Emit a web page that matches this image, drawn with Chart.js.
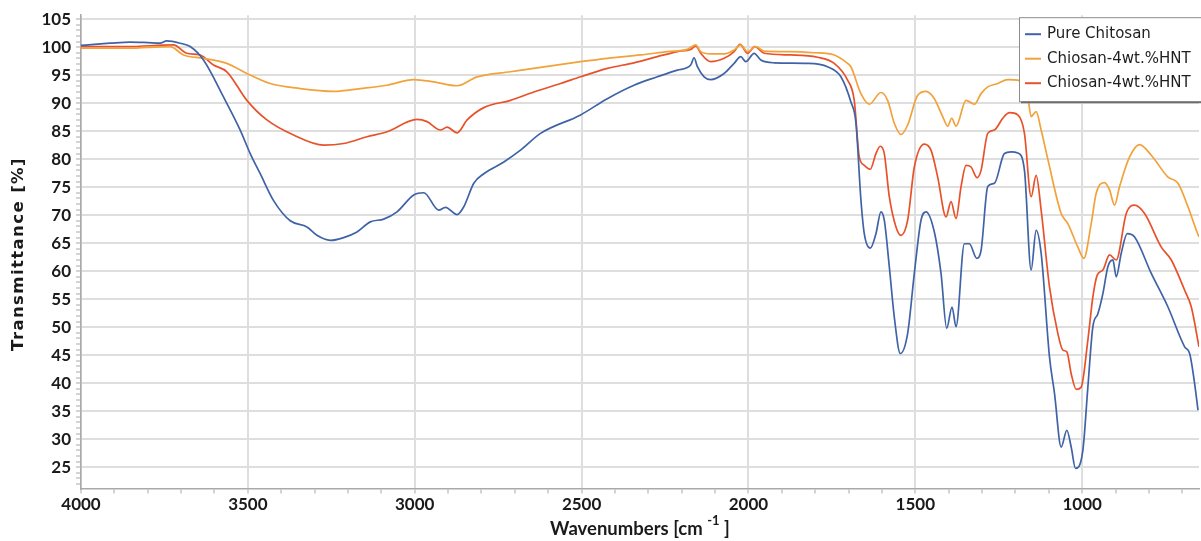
<!DOCTYPE html>
<html>
<head>
<meta charset="utf-8">
<script src="https://cdn.jsdelivr.net/npm/chart.js@4.4.1/dist/chart.umd.min.js"></script>
<style>
  body { margin: 0; background: #fff; }
  #wrap { width: 1201px; height: 541px; }
</style>
</head>
<body>
<div id="wrap"><canvas id="ftirChart"></canvas></div>
<script>
// FTIR spectra, [wavenumber cm-1, transmittance %]
const pureChitosan = [
  [4000,100.3],[3960,100.5],[3913,100.7],[3853,100.9],[3800,100.8],[3763,100.7],[3743,101.1],[3703,100.7],
  [3673,100.1],[3633,97.7],[3573,91.1],[3523,85.2],[3493,81.0],[3463,77.4],[3423,72.6],[3373,69.0],
  [3323,67.9],[3293,66.4],[3253,65.5],[3213,66.0],[3173,67.0],[3133,68.8],[3093,69.3],[3053,70.6],
  [3003,73.6],[2973,74.0],[2928,70.9],[2908,71.4],[2873,70.1],[2853,71.5],[2823,75.7],[2793,77.4],
  [2733,79.5],[2683,81.6],[2623,84.6],[2503,87.9],[2423,90.8],[2343,93.2],[2273,94.7],[2213,95.9],
  [2173,96.8],[2163,98.1],[2153,96.5],[2133,94.7],[2113,94.2],[2073,95.3],[2043,97.1],[2023,98.3],
  [2008,97.4],[1983,98.9],[1963,97.7],[1923,97.2],[1823,97.1],[1763,96.5],[1723,94.7],[1693,90.2],
  [1678,86.5],[1663,72.7],[1653,66.7],[1635,64.1],[1618,66.7],[1603,70.6],[1593,69.1],[1578,60.8],
  [1563,51.8],[1545,45.3],[1523,48.9],[1503,59.6],[1483,69.1],[1468,70.6],[1443,67.0],[1423,59.6],
  [1406,49.8],[1390,53.6],[1378,50.1],[1353,64.9],[1338,64.9],[1316,62.3],[1303,63.7],[1283,75.1],
  [1263,75.7],[1233,81.0],[1213,81.3],[1193,81.1],[1173,78.0],[1153,60.2],[1138,67.3],[1123,63.2],
  [1098,44.7],[1083,38.2],[1063,28.6],[1046,31.6],[1033,28.6],[1020,24.8],[998,28.0],[983,39.3],
  [968,50.1],[953,52.4],[938,56.0],[923,60.8],[908,62.0],[898,59.0],[883,63.2],[865,66.7],
  [843,66.1],[793,59.6],[743,53.6],[693,46.5],[678,45.3],[663,39.9],[653,35.2]
];
const hntOrange = [
  [4000,99.8],[3863,99.8],[3733,100.1],[3693,98.6],[3633,98.0],[3563,97.1],[3503,95.3],[3433,93.5],
  [3343,92.6],[3243,92.1],[3163,92.6],[3083,93.2],[3003,94.2],[2943,93.8],[2873,93.1],[2813,94.7],
  [2713,95.6],[2623,96.4],[2503,97.4],[2423,98.0],[2323,98.6],[2243,99.2],[2183,99.6],[2158,100.4],
  [2143,99.2],[2113,98.8],[2073,98.8],[2043,99.5],[2023,100.4],[2003,99.2],[1978,100.1],[1953,99.3],
  [1873,99.2],[1803,99.0],[1743,98.6],[1703,97.1],[1693,96.5],[1663,91.7],[1638,89.8],[1603,91.9],
  [1583,90.5],[1563,86.4],[1543,84.4],[1523,86.1],[1493,91.4],[1468,92.1],[1443,90.8],[1418,87.6],
  [1403,85.9],[1391,87.3],[1378,85.9],[1348,90.5],[1323,89.8],[1303,91.7],[1283,92.9],[1253,93.5],
  [1223,94.2],[1193,94.1],[1163,91.1],[1153,87.6],[1138,88.5],[1123,85.2],[1103,80.0],[1063,70.3],
  [1043,68.5],[1013,64.3],[995,62.3],[973,68.5],[958,73.9],[933,75.8],[918,74.5],[903,71.8],
  [888,75.1],[858,80.4],[828,82.6],[793,80.7],[743,76.8],[713,75.7],[683,71.5],[658,67.3],[650,66.1]
];
const hntRed = [
  [4000,100.1],[3863,100.1],[3723,100.4],[3683,98.9],[3643,98.6],[3603,96.8],[3563,95.6],[3503,90.5],
  [3443,87.0],[3363,84.3],[3273,82.5],[3213,82.8],[3143,84.0],[3083,84.9],[2993,87.1],[2963,86.7],
  [2923,85.2],[2903,85.7],[2873,84.7],[2843,87.0],[2793,89.2],[2713,90.5],[2643,92.0],[2563,93.5],
  [2503,94.7],[2423,96.2],[2343,97.2],[2273,98.3],[2213,99.2],[2173,99.6],[2158,100.2],[2143,98.9],
  [2113,97.4],[2073,98.0],[2043,99.2],[2025,100.5],[2003,98.9],[1981,100.1],[1953,98.9],[1873,98.6],
  [1793,98.2],[1743,97.1],[1703,94.1],[1683,90.5],[1668,80.4],[1653,78.9],[1635,78.2],[1618,81.0],
  [1605,82.3],[1593,81.0],[1578,73.3],[1558,67.9],[1543,66.4],[1523,69.1],[1503,78.6],[1473,82.7],
  [1453,81.6],[1433,76.8],[1408,69.7],[1393,72.4],[1378,69.4],[1363,75.1],[1348,78.9],[1333,78.6],
  [1315,76.7],[1303,78.0],[1283,84.6],[1263,85.2],[1238,87.3],[1218,88.3],[1193,87.9],[1173,84.6],
  [1153,73.3],[1138,77.1],[1123,70.9],[1098,57.2],[1073,48.9],[1058,45.9],[1046,45.6],[1033,41.7],
  [1018,38.9],[1003,39.3],[983,47.7],[968,55.4],[955,59.3],[938,60.2],[918,62.9],[898,62.0],
  [868,70.3],[843,71.8],[813,70.3],[763,64.3],[733,62.0],[693,56.6],[673,53.6],[650,46.5]
];

const seriesNames = ['Pure Chitosan', 'Chiosan-4wt.%HNT', 'Chiosan-4wt.%HNT'];
const seriesColors = ['#3f63a6', '#f2a23a', '#e8522a'];
const xTicks = [1000, 1500, 2000, 2500, 3000, 3500, 4000];
const yTicks = [25, 30, 35, 40, 45, 50, 55, 60, 65, 70, 75, 80, 85, 90, 95, 100, 105];

const gridColor = '#dedede';
const axisColor = '#a9a9a9';
const labelFont = { family: 'Lato', size: 17, weight: 'bold' };

const toPoints = arr => arr.map(p => ({ x: p[0], y: p[1] }));

// legend box drawn inside the plot, top right
const legendBox = {
  id: 'legendBox',
  afterDraw(chart) {
    const { ctx, chartArea } = chart;
    const x = chartArea.right - 180, y = chartArea.top + 2;
    const w = 200, h = 84;
    ctx.save();
    ctx.fillStyle = '#666';
    ctx.fillRect(x + 2, y + 2, w, h);
    ctx.fillStyle = '#fff';
    ctx.fillRect(x, y, w, h);
    ctx.strokeStyle = '#8c8c8c';
    ctx.lineWidth = 1;
    ctx.strokeRect(x + 0.5, y + 0.5, w, h);
    ctx.font = '15px "DejaVu Sans"';
    ctx.textBaseline = 'middle';
    chart.data.datasets.forEach((ds, i) => {
      const cy = y + 17 + i * 24.5;
      ctx.strokeStyle = ds.borderColor;
      ctx.lineWidth = 2;
      ctx.beginPath();
      ctx.moveTo(x + 6, cy);
      ctx.lineTo(x + 22, cy);
      ctx.stroke();
      ctx.fillStyle = '#1e1e1e';
      ctx.fillText(ds.label, x + 28, cy);
    });
    ctx.restore();
  }
};

// axis titles (the x one has a superscript -1)
const axisTitles = {
  id: 'axisTitles',
  afterDraw(chart) {
    const { ctx, chartArea } = chart;
    ctx.save();
    ctx.fillStyle = '#1a1a1a';
    ctx.textBaseline = 'middle';
    const main = 'Wavenumbers [cm ';
    const sup = '-1';
    const end = ' ]';
    const bigFont = 'bold 18.5px Lato';
    const supFont = 'bold 13px Lato';
    ctx.font = bigFont;
    const w1 = ctx.measureText(main).width, w3 = ctx.measureText(end).width;
    ctx.font = supFont;
    const w2 = ctx.measureText(sup).width;
    let tx = (chartArea.left + chartArea.right) / 2 - (w1 + w2 + w3) / 2;
    const ty = 529;
    ctx.textAlign = 'left';
    ctx.font = bigFont;
    ctx.fillText(main, tx, ty);
    ctx.font = supFont;
    ctx.fillText(sup, tx + w1, ty - 8);
    ctx.font = bigFont;
    ctx.fillText(end, tx + w1 + w2, ty);

    ctx.translate(19, 254);
    ctx.rotate(-Math.PI / 2);
    ctx.textAlign = 'center';
    ctx.font = 'bold 16.5px "DejaVu Sans"';
    ctx.letterSpacing = '1.4px';
    ctx.fillText('Transmittance [%]', 0, 0);
    ctx.restore();
  }
};

const ftirCtx = document.getElementById('ftirChart');
const ftirChart = new Chart(ftirCtx.getContext('2d'), {
  type: 'line',
  data: {
    datasets: [pureChitosan, hntOrange, hntRed].map((s, i) => ({
      label: seriesNames[i],
      data: toPoints(s),
      borderColor: seriesColors[i],
      borderWidth: 1.7,
      pointRadius: 0,
      fill: false,
      cubicInterpolationMode: 'monotone'
    }))
  },
  options: {
    responsive: true,
    maintainAspectRatio: false,
    animation: false,
    layout: { padding: { top: 15, right: 2, left: 0, bottom: 0 } },
    plugins: {
      legend: { display: false },
      tooltip: { enabled: false }
    },
    scales: {
      x: {
        type: 'linear',
        reverse: true,
        min: 650,
        max: 4000,
        afterBuildTicks: scale => {
          const t = [];
          for (let v = 700; v <= 4000; v += 100) t.push({ value: v });
          scale.ticks = t;
        },
        afterFit: scale => { scale.height = 52.5; },
        ticks: {
          autoSkip: false,
          maxRotation: 0,
          padding: 1,
          color: '#1a1a1a',
          font: labelFont,
          callback: v => (xTicks.includes(v) ? String(v) : '')
        },
        grid: {
          color: c => (c.tick && xTicks.includes(c.tick.value) ? gridColor : 'rgba(0,0,0,0)'),
          lineWidth: 2,
          tickColor: axisColor,
          tickLength: 5,
          tickWidth: 1
        },
        border: { color: axisColor, width: 1.5 }
      },
      y: {
        min: 21.2,
        max: 105.7,
        afterBuildTicks: scale => {
          const t = [];
          for (let v = 22; v <= 105; v += 1) t.push({ value: v });
          scale.ticks = t;
        },
        afterFit: scale => { scale.width = 81; },
        ticks: {
          autoSkip: false,
          padding: 5,
          color: '#1a1a1a',
          font: labelFont,
          callback: v => (yTicks.includes(v) ? String(v) : '')
        },
        grid: {
          color: c => (c.tick && yTicks.includes(c.tick.value) ? gridColor : 'rgba(0,0,0,0)'),
          lineWidth: 2,
          tickColor: axisColor,
          tickLength: 5,
          tickWidth: 1
        },
        border: { color: axisColor, width: 1.5 }
      }
    }
  },
  plugins: [legendBox, axisTitles]
});
</script>
</body>
</html>
